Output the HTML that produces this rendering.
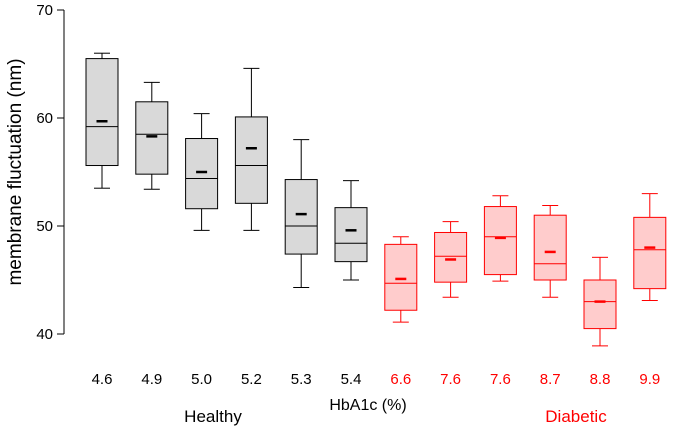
<!DOCTYPE html>
<html><head><meta charset="utf-8"><style>
body{margin:0;background:#fff;}
svg{display:block;font-family:"Liberation Sans",Arial,sans-serif;}
</style></head><body>
<svg id="chart" width="675" height="433">
<g id="yaxis"></g>
<g id="boxes"></g>
<text x="21" y="172" transform="rotate(-90 21 172)" text-anchor="middle" font-size="19">membrane fluctuation (nm)</text>
<text x="368" y="410" text-anchor="middle" font-size="16">HbA1c (%)</text>
<text x="213" y="422" text-anchor="middle" font-size="17">Healthy</text>
<text x="576" y="422" text-anchor="middle" font-size="17" fill="#ff0000">Diabetic</text>
</svg>
<script>
const categories=["4.6","4.9","5.0","5.2","5.3","5.4","6.6","7.6","7.6","8.7","8.8","9.9"];
const groups=["h","h","h","h","h","h","d","d","d","d","d","d"];
const whiskerHigh=[66.0,63.3,60.4,64.6,58.0,54.2,49.0,50.4,52.8,51.9,47.1,53.0];
const q3=[65.5,61.5,58.1,60.1,54.3,51.7,48.3,49.4,51.8,51.0,45.0,50.8];
const medians=[59.2,58.5,54.4,55.6,50.0,48.4,44.7,47.2,49.0,46.5,43.0,47.8];
const means=[59.7,58.3,55.0,57.2,51.1,49.6,45.1,46.9,48.9,47.6,43.0,48.0];
const q1=[55.6,54.8,51.6,52.1,47.4,46.7,42.2,44.8,45.5,45.0,40.5,44.2];
const whiskerLow=[53.5,53.4,49.6,49.6,44.3,45.0,41.1,43.4,44.9,43.4,38.9,43.1];
const yTicks=[40,50,60,70];

const NS="http://www.w3.org/2000/svg";
const y=v=>334-(v-40)*10.8;
const x=i=>102+i*49.8;
function mk(tag,attrs,parent){const e=document.createElementNS(NS,tag);for(const k in attrs)e.setAttribute(k,attrs[k]);parent.appendChild(e);return e;}
const ya=document.getElementById('yaxis');
let ax=mk('line',{x1:64,x2:64,y1:y(70),y2:y(40),stroke:'#000','stroke-width':1},ya);


yTicks.forEach(t=>{
 let l=mk('line',{x1:57,x2:64,y1:y(t),y2:y(t),stroke:'#000'},ya);
 
 
 let tx=mk('text',{x:53,y:y(t)+5,'text-anchor':'end','font-size':15},ya);tx.textContent=t;
 
 
});
const bx=document.getElementById('boxes');
categories.forEach((c,i)=>{
 const red=groups[i]==='d';
 const st=red?'#ff0000':'#000', fill=red?'#ffcccc':'#d9d9d9';
 const cx=x(i), hw=16;
 const g=mk('g',{},bx);
 
 
 mk('line',{x1:cx,x2:cx,y1:y(whiskerHigh[i]),y2:y(q3[i]),stroke:st},g);
 mk('line',{x1:cx,x2:cx,y1:y(q1[i]),y2:y(whiskerLow[i]),stroke:st},g);
 mk('line',{x1:cx-8,x2:cx+8,y1:y(whiskerHigh[i]),y2:y(whiskerHigh[i]),stroke:st},g);
 mk('line',{x1:cx-8,x2:cx+8,y1:y(whiskerLow[i]),y2:y(whiskerLow[i]),stroke:st},g);
 mk('rect',{x:cx-hw,y:y(q3[i]),width:2*hw,height:y(q1[i])-y(q3[i]),fill:fill,stroke:st},g);
 mk('line',{x1:cx-hw,x2:cx+hw,y1:y(medians[i]),y2:y(medians[i]),stroke:st},g);
 mk('line',{x1:cx-5.5,x2:cx+5.5,y1:y(means[i]),y2:y(means[i]),stroke:st,'stroke-width':2.5},g);
 const t=mk('text',{x:cx,y:384,'text-anchor':'middle','font-size':15,fill:st},bx);t.textContent=c;
 
 
});
</script>
</body></html>
